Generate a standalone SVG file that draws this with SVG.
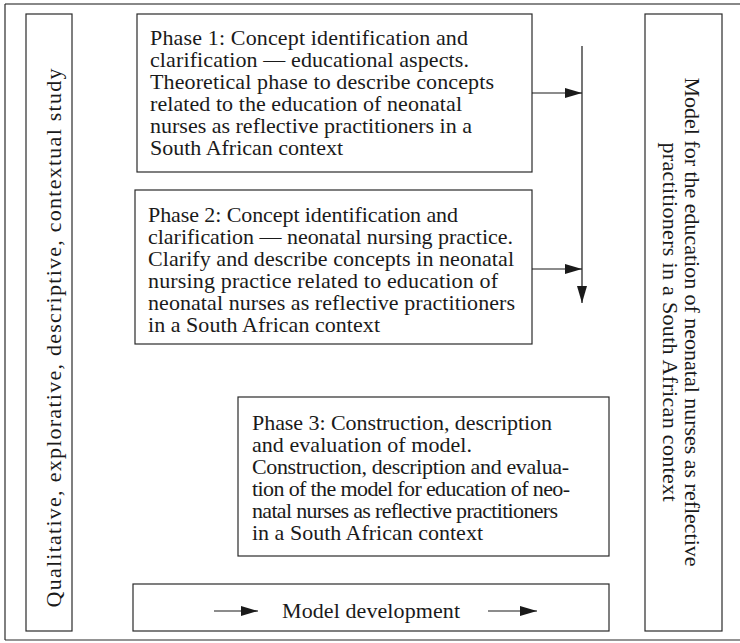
<svg xmlns="http://www.w3.org/2000/svg" width="740" height="643" viewBox="0 0 740 643">
<defs>
<style>
.box{fill:#fff;stroke:#2a2a2a;stroke-width:1.2}
.t{font-family:"Liberation Serif","DejaVu Serif",serif;font-size:22px;fill:#1a1a1a}
.ln{stroke:#1a1a1a;stroke-width:1.2;fill:none}
</style>
<marker id="ah" viewBox="0 0 17 10" refX="17" refY="5" markerWidth="17" markerHeight="10" markerUnits="userSpaceOnUse" orient="auto">
<path d="M0,0 L17,5 L0,10 Z" fill="#1a1a1a"/>
</marker>
</defs>
<rect x="0" y="0" width="740" height="643" fill="#fff"/>
<g id="frame">
<line x1="5" y1="4" x2="740" y2="4" stroke="#888" stroke-width="2"/>
<line x1="5" y1="4" x2="5" y2="640" stroke="#2a2a2a" stroke-width="1.2"/>
<line x1="5" y1="640" x2="740" y2="640" stroke="#2a2a2a" stroke-width="1.2"/>
</g>
<g id="study">
<rect class="box" x="26" y="14" width="46" height="617"/>
<text class="t" transform="translate(61,338) rotate(-90)" text-anchor="middle" textLength="539" lengthAdjust="spacing">Qualitative, explorative, descriptive, contextual study</text>
</g>
<g id="phase1">
<rect class="box" x="137" y="14" width="395" height="158"/>
<text class="t" x="150" y="45" textLength="318" lengthAdjust="spacing">Phase 1: Concept identification and</text>
<text class="t" x="150" y="67" textLength="319" lengthAdjust="spacing">clarification — educational aspects.</text>
<text class="t" x="150" y="89" textLength="344" lengthAdjust="spacing">Theoretical phase to describe concepts</text>
<text class="t" x="150" y="111" textLength="312" lengthAdjust="spacing">related to the education of neonatal</text>
<text class="t" x="150" y="133" textLength="322" lengthAdjust="spacing">nurses as reflective practitioners in a</text>
<text class="t" x="150" y="155" textLength="193" lengthAdjust="spacing">South African context</text>
</g>
<g id="phase2">
<rect class="box" x="135" y="190" width="397" height="154"/>
<text class="t" x="148" y="222" textLength="310" lengthAdjust="spacing">Phase 2: Concept identification and</text>
<text class="t" x="148" y="244" textLength="365" lengthAdjust="spacing">clarification — neonatal nursing practice.</text>
<text class="t" x="148" y="266" textLength="366" lengthAdjust="spacing">Clarify and describe concepts in neonatal</text>
<text class="t" x="148" y="288" textLength="350" lengthAdjust="spacing">nursing practice related to education of</text>
<text class="t" x="148" y="310" textLength="367" lengthAdjust="spacing">neonatal nurses as reflective practitioners</text>
<text class="t" x="148" y="332" textLength="232" lengthAdjust="spacing">in a South African context</text>
</g>
<g id="phase3">
<rect class="box" x="238" y="397" width="371" height="159"/>
<text class="t" x="252" y="430" textLength="300" lengthAdjust="spacing">Phase 3: Construction, description</text>
<text class="t" x="252" y="452" textLength="220" lengthAdjust="spacing">and evaluation of model.</text>
<text class="t" x="252" y="474" textLength="317" lengthAdjust="spacing">Construction, description and evalua-</text>
<text class="t" x="252" y="496" textLength="318" lengthAdjust="spacing">tion of the model for education of neo-</text>
<text class="t" x="252" y="518" textLength="306" lengthAdjust="spacing">natal nurses as reflective practitioners</text>
<text class="t" x="252" y="540" textLength="231" lengthAdjust="spacing">in a South African context</text>
</g>
<g id="development">
<rect class="box" x="133" y="584" width="476" height="47"/>
<text class="t" x="282" y="618" textLength="178" lengthAdjust="spacing">Model development</text>
</g>
<g id="model">
<rect class="box" x="645" y="14" width="77" height="617"/>
<text class="t" transform="translate(685,322) rotate(90)" text-anchor="middle" textLength="489" lengthAdjust="spacing">Model for the education of neonatal nurses as reflective</text>
<text class="t" transform="translate(663,322) rotate(90)" text-anchor="middle" textLength="359" lengthAdjust="spacing">practitioners in a South African context</text>
</g>
<g id="connectors">
<line class="ln" x1="582" y1="46" x2="582" y2="303" marker-end="url(#ah)"/>
<line class="ln" x1="532" y1="93" x2="582" y2="93" marker-end="url(#ah)"/>
<line class="ln" x1="532" y1="269" x2="582" y2="269" marker-end="url(#ah)"/>
<line class="ln" x1="214" y1="611" x2="258" y2="611" marker-end="url(#ah)"/>
<line class="ln" x1="488" y1="611" x2="537" y2="611" marker-end="url(#ah)"/>
</g>
</svg>
